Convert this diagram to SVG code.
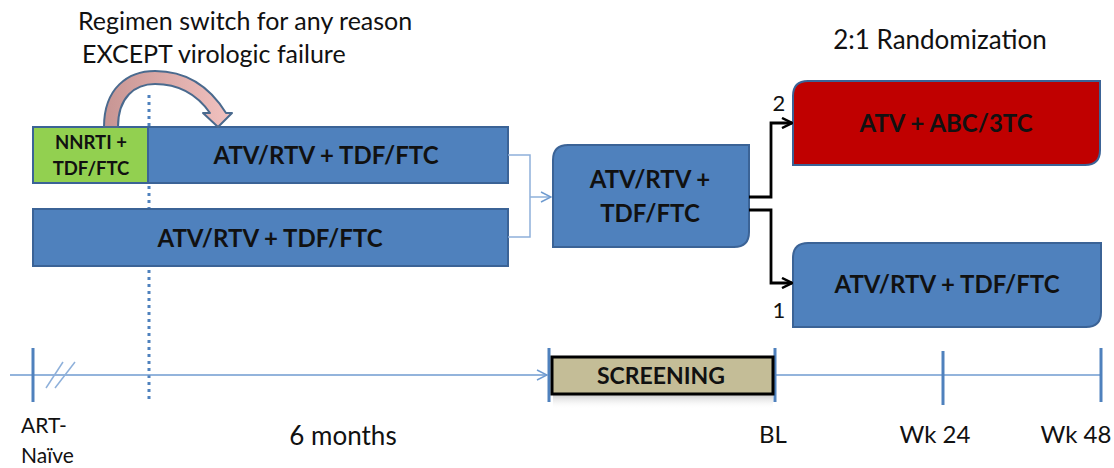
<svg xmlns="http://www.w3.org/2000/svg" width="1114" height="468" viewBox="0 0 1114 468">
  <defs>
    <style>
      .txt { font-family: Lato, "Open Sans", "Liberation Sans", sans-serif; fill: #111; }
      .lbl { font-size: 24px; }
      .box { font-size: 24px; font-weight: bold; text-anchor: middle; }
      .blue { fill: #4f81bd; stroke: #3b6396; stroke-width: 2; }
      .axis { stroke: #6f9bd0; stroke-width: 1.5; fill: none; }
      .tick { stroke: #4f81bd; stroke-width: 3; }
      .thin { stroke: #8eb0da; stroke-width: 1.5; fill: none; }
      .branch { stroke: #000; stroke-width: 2.8; fill: none; }
    </style>
    <marker id="open-black" viewBox="0 0 12 12" refX="11" refY="6" markerWidth="12" markerHeight="12" markerUnits="userSpaceOnUse" orient="auto">
      <path d="M1,1 L11,6 L1,11" fill="none" stroke="#000" stroke-width="2.5"/>
    </marker>
    <marker id="open-blue" viewBox="0 0 12 12" refX="11" refY="6" markerWidth="12" markerHeight="12" markerUnits="userSpaceOnUse" orient="auto">
      <path d="M1,1 L11,6 L1,11" fill="none" stroke="#6f9bd0" stroke-width="1.5"/>
    </marker>
    <linearGradient id="swap" x1="0" y1="0" x2="1" y2="0">
      <stop offset="0" stop-color="#c79593"/>
      <stop offset="1" stop-color="#f2c2c0"/>
    </linearGradient>
    <linearGradient id="shade" x1="0" y1="0" x2="0" y2="1">
      <stop offset="0" stop-color="#cfcfcf"/>
      <stop offset="1" stop-color="#ffffff" stop-opacity="0"/>
    </linearGradient>
  </defs>

  <!-- heading texts -->
  <text class="txt" x="78" y="30" font-size="25">Regimen switch for any reason</text>
  <text class="txt" x="82" y="63" font-size="25">EXCEPT virologic failure</text>
  <text class="txt" x="940" y="49" font-size="26" text-anchor="middle">2:1 Randomization</text>

  <!-- dotted switch marker -->
  <line x1="149" y1="95" x2="149" y2="402" stroke="#4f81bd" stroke-width="3" stroke-dasharray="3,4"/>

  <!-- prior regimen, switched arm -->
  <g id="node-switched">
    <rect class="blue" x="33" y="127" width="475" height="56"/>
    <rect x="33" y="127" width="115" height="56" fill="#92d050" stroke="#3b6396" stroke-width="2"/>
    <text class="txt" x="91" y="149" font-size="18.5" font-weight="bold" text-anchor="middle">NNRTI +</text>
    <text class="txt" x="91" y="175" font-size="18.5" font-weight="bold" text-anchor="middle">TDF/FTC</text>
    <text class="txt box" x="326" y="164">ATV/RTV + TDF/FTC</text>
  </g>

  <!-- curved switch arrow -->
  <g id="node-switch-arrow">
    <path d="M104,127 C104,88 128,71 155,71 C185,71 208,84 226,113 L232,113 L218,127 L203,113 L210,113 C196,93 178,84 155,84 C135,84 118,97 118,127 Z" fill="url(#swap)" stroke="#4a6a8e" stroke-width="2" stroke-linejoin="round"/>
  </g>

  <!-- prior regimen, continuous arm -->
  <g id="node-continuous">
    <rect class="blue" x="33" y="209" width="475" height="57"/>
    <text class="txt box" x="270" y="247">ATV/RTV + TDF/FTC</text>
  </g>

  <!-- enrolment regimen -->
  <g id="node-enrolled">
    <path class="blue" d="M568,145 H749 V232 Q749,247 734,247 H553 V160 Q553,145 568,145 Z"/>
    <text class="txt box" x="650" y="188">ATV/RTV +</text>
    <text class="txt box" x="650" y="222">TDF/FTC</text>
  </g>

  <!-- randomized arms -->
  <g id="node-arm-abc">
    <path d="M808,81 H1100 V150 Q1100,165 1085,165 H793 V96 Q793,81 808,81 Z" fill="#c00000" stroke="#3b6396" stroke-width="2"/>
    <text class="txt box" x="946" y="132">ATV + ABC/3TC</text>
  </g>
  <g id="node-arm-tdf">
    <path class="blue" d="M808,243 H1101 V312 Q1101,327 1086,327 H793 V258 Q793,243 808,243 Z"/>
    <text class="txt box" x="947" y="293">ATV/RTV + TDF/FTC</text>
  </g>

  <!-- connectors -->
  <g id="connectors">
    <path class="thin" d="M508,155 H530 V237 H508"/>
    <path class="thin" d="M530,197 H551" marker-end="url(#open-blue)"/>
    <path class="branch" d="M749,197 H771 V123 H792" marker-end="url(#open-black)"/>
    <path class="branch" d="M749,210 H771 V283 H792" marker-end="url(#open-black)"/>
    <text class="txt" x="779" y="111" font-size="22" text-anchor="middle">2</text>
    <text class="txt" x="779" y="318" font-size="22" text-anchor="middle">1</text>
  </g>

  <!-- timeline -->
  <g id="timeline">
    <path class="axis" d="M10,375 H547" marker-end="url(#open-blue)"/>
    <line class="axis" x1="774" y1="375" x2="1101" y2="375"/>
    <line class="tick" x1="33" y1="348" x2="33" y2="402"/>
    <line x1="46" y1="388" x2="63" y2="362" stroke="#8eb0da" stroke-width="1.5"/>
    <line x1="55" y1="388" x2="75" y2="362" stroke="#8eb0da" stroke-width="1.5"/>
    <line class="tick" x1="549" y1="348" x2="549" y2="402"/>
    <line class="tick" x1="775" y1="348" x2="775" y2="402"/>
    <line class="tick" x1="943" y1="351" x2="943" y2="405"/>
    <line class="tick" x1="1101" y1="348" x2="1101" y2="402"/>
  </g>

  <g id="node-screening">
    <rect x="553" y="395" width="220" height="14" fill="url(#shade)"/>
    <rect x="552" y="357" width="221" height="37" fill="#c4bd97" stroke="#000" stroke-width="3"/>
    <text class="txt" x="661" y="384" font-size="23" font-weight="bold" text-anchor="middle">SCREENING</text>
  </g>

  <!-- timeline labels -->
  <text class="txt" x="21" y="433" font-size="21">ART-</text>
  <text class="txt" x="21" y="463" font-size="21">Naïve</text>
  <text class="txt" x="343" y="445" font-size="26" text-anchor="middle">6 months</text>
  <text class="txt lbl" x="773" y="443" text-anchor="middle">BL</text>
  <text class="txt lbl" x="935" y="443" text-anchor="middle">Wk 24</text>
  <text class="txt lbl" x="1076" y="443" text-anchor="middle">Wk 48</text>
</svg>
